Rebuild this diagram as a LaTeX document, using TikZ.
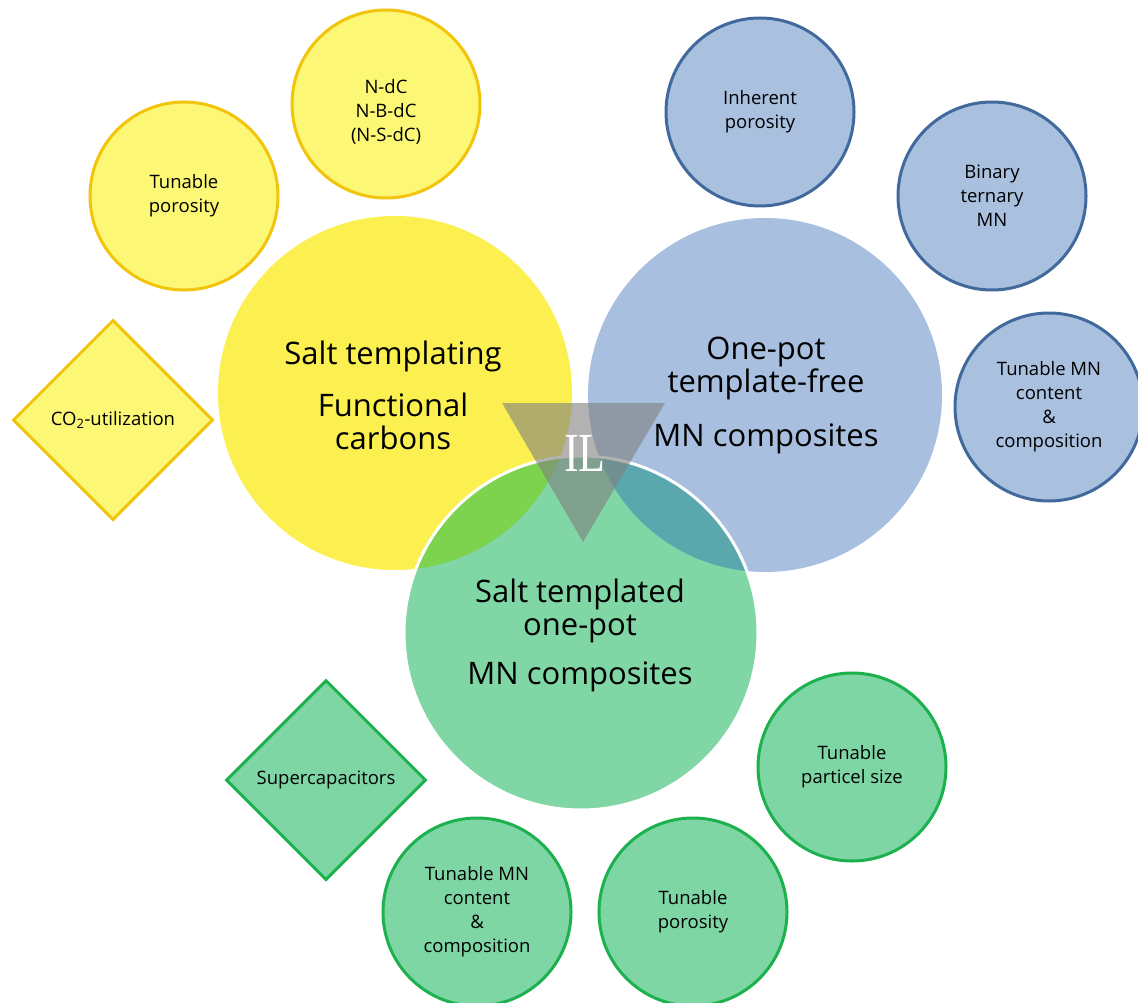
\documentclass[tikz,border=0pt]{standalone}
\usepackage{fontspec}
\setmainfont{Open Sans}
\newfontfamily\ilfont{Liberation Serif}
\usetikzlibrary{shapes.geometric}
\definecolor{bigyel}{HTML}{FBF04F}
\definecolor{smyel}{HTML}{FCF775}
\definecolor{yelline}{HTML}{F2C40C}
\definecolor{bigblu}{HTML}{A8BFDF}
\definecolor{smblu}{HTML}{A9C0DF}
\definecolor{bluline}{HTML}{41699C}
\definecolor{biggrn}{HTML}{80D6A5}
\definecolor{smgrn}{HTML}{7FD6A5}
\definecolor{grnline}{HTML}{1DB14E}
\definecolor{ovyel}{HTML}{7DD24E}
\definecolor{ovblu}{HTML}{5BA7AE}
\definecolor{tricol}{HTML}{7F7F7F}
\begin{document}
\begin{tikzpicture}[x=1pt,y=-1pt,
  bigc/.style={circle,minimum size=354pt,inner sep=0pt,draw=none},
  bigtext/.style={align=center,font=\fontsize{31}{33}\selectfont,text=black},
  smc/.style={circle,minimum size=188pt,inner sep=0pt,line width=3pt,align=center,font=\fontsize{18.5}{24}\selectfont},
  smd/.style={diamond,minimum width=200pt,minimum height=200pt,inner sep=0pt,line width=3pt,align=center,font=\fontsize{18.5}{24}\selectfont},
  ycirc/.style={smc,fill=smyel,draw=yelline},
  bcirc/.style={smc,fill=smblu,draw=bluline},
  gcirc/.style={smc,fill=smgrn,draw=grnline},
  ydiam/.style={smd,fill=smyel,draw=yelline},
  gdiam/.style={smd,fill=smgrn,draw=grnline},
  smtext/.style={align=center,font=\fontsize{18.5}{24}\selectfont}
]
\useasboundingbox (0,0) rectangle (1138,1003);
\fill[white] (0,0) rectangle (1138,1003);

% small satellites (yellow)
\node[ycirc] (ytp) at (184,196) {Tunable\\porosity};
\node[ycirc] (ydc) at (386,104) {};
\node[smtext] (ydct) at (386,112) {N-dC\\N-B-dC\\(N-S-dC)};
\node[ydiam] (yco) at (113,420) {CO\textsubscript{2}-utilization};

% small satellites (blue)
\node[bcirc] (bip) at (760,112) {Inherent\\porosity};
\node[bcirc] (bbt) at (992,196) {Binary\\ternary\\MN};
\node[bcirc] (bmn) at (1049,407) {Tunable MN\\content\\\&\\composition};

% small satellites (green)
\node[gcirc] (gps) at (852,767) {Tunable\\particel size};
\node[gcirc] (gtp) at (693,912) {Tunable\\porosity};
\node[gcirc] (gmn) at (477,912) {Tunable MN\\content\\\&\\composition};
\node[gdiam] (gsc) at (326,780) {Supercapacitors};

% big circles
\node[bigc,fill=bigyel] (yel) at (395,393) {};
\node[bigc,fill=bigblu] (blu) at (765,395) {};
\node[bigc,fill=biggrn] (grn) at (581,633) {};
\begin{scope}
  \clip (grn.center) circle (177);
  \fill[ovyel] (yel.center) circle (177);
  \fill[ovblu] (blu.center) circle (177);
\end{scope}
\draw[white,line width=3pt] (grn.center) circle (177);

% central triangle
\coordinate (t1) at (502,403);
\coordinate (t2) at (665,403);
\coordinate (t3) at (583,542);
\fill[tricol,opacity=0.6] (t1) -- (t2) -- (t3) -- cycle;
\node[text=white,font=\ilfont\fontsize{55}{55}\selectfont,xscale=0.8] (il) at (585,453) {IL};

% big texts
\node[bigtext] (yelt) at (393,395) {Salt templating\\[19pt]Functional\\carbons};
\node[bigtext] (blut) at (766,395) {One-pot\\template-free\\[21pt]MN composites};
\node[bigtext] (grnt) at (580,635) {Salt templated\\one-pot\\[16pt]MN composites};
\end{tikzpicture}
\end{document}
